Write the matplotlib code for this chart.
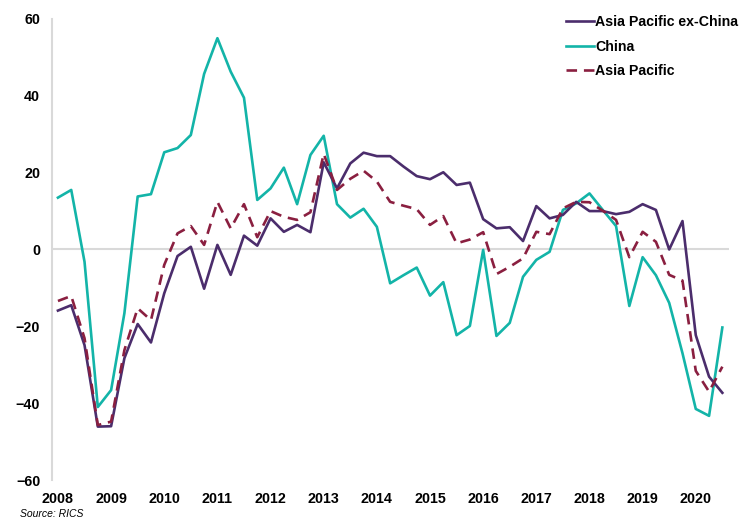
import matplotlib
matplotlib.use("Agg")
import matplotlib.pyplot as plt

quarters = list(range(51))  # 2008Q1 .. 2020Q3
year_labels = [str(y) for y in range(2008, 2021)]

ap_ex_china = [-15.9, -14.5, -24.9, -46.1, -46.0, -28.3, -19.4, -24.2, -11.4, -1.7,
               0.7, -10.2, 1.2, -6.6, 3.6, 1.0, 8.1, 4.6, 6.4, 4.5,
               22.7, 15.9, 22.4, 25.2, 24.3, 24.3, 21.6, 19.1, 18.3, 20.1,
               16.8, 17.4, 7.9, 5.5, 5.8, 2.2, 11.3, 8.1, 9.0, 12.4,
               10.0, 10.0, 9.2, 9.8, 11.8, 10.3, 0.0, 7.4, -22.3, -33.1,
               -37.3]
china = [13.5, 15.5, -3.2, -41.0, -36.6, -16.6, 13.8, 14.4, 25.3, 26.4,
         29.8, 45.7, 55.0, 46.3, 39.5, 12.9, 15.9, 21.3, 11.8, 24.6,
         29.6, 11.8, 8.3, 10.6, 5.9, -8.8, -6.7, -4.7, -12.0, -8.5,
         -22.3, -19.9, -0.1, -22.5, -19.1, -7.1, -2.7, -0.6, 10.3, 12.0,
         14.6, 10.3, 6.1, -14.7, -2.0, -6.7, -13.9, -27.0, -41.5, -43.3,
         -20.3]
asia_pacific = [-13.4, -12.1, -23.1, -45.7, -44.8, -26.2, -15.3, -18.4, -4.0, 4.2,
                6.1, 1.2, 12.4, 5.5, 11.8, 3.2, 10.0, 8.5, 7.7, 9.7,
                24.9, 15.5, 18.4, 20.5, 17.7, 12.4, 11.4, 10.5, 6.4, 8.7,
                1.6, 2.6, 4.5, -6.4, -4.5, -2.3, 4.6, 4.0, 10.7, 12.4,
                12.3, 10.1, 7.7, -2.0, 4.6, 2.0, -6.6, -8.1, -31.6, -37.0,
                -30.5]

plt.rcParams['font.family'] = ['Liberation Sans', 'DejaVu Sans']

fig = plt.figure(figsize=(7.51, 5.20), dpi=100)
ax = fig.add_axes([0.0692, 0.0769, 0.9015, 0.8866])

c_purple = '#4b2d6c'
c_teal = '#13b4a8'
c_maroon = '#8a1f40'

ax.axhline(0, color='#d9d9d9', lw=1.5, zorder=1)
ax.plot(quarters, ap_ex_china, color=c_purple, lw=1.9, label='Asia Pacific ex-China', zorder=3)
ax.plot(quarters, china, color=c_teal, lw=1.9, label='China', zorder=2)
ax.plot(quarters, asia_pacific, color=c_maroon, lw=1.9, dashes=(4, 2.6), label='Asia Pacific', zorder=4)

ax.set_xlim(-0.45, 50.5)
ax.set_ylim(-60, 60)
ax.set_yticks(range(-60, 61, 20))
ax.set_xticks(quarters[::4])
ax.set_xticklabels(year_labels)

for s in ['top', 'right', 'bottom']:
    ax.spines[s].set_visible(False)
ax.spines['left'].set_color('#d9d9d9')
ax.spines['left'].set_linewidth(1.5)

ax.tick_params(axis='both', length=0, labelsize=10.3, colors='#000000')
ax.tick_params(axis='y', pad=8.5)
ax.tick_params(axis='x', pad=8.5)
for lbl in ax.get_xticklabels() + ax.get_yticklabels():
    lbl.set_fontweight('bold')

leg = ax.legend(loc='upper right', bbox_to_anchor=(1.022, 1.021), frameon=False,
                prop={'weight': 'bold', 'size': 10.2}, handlelength=1.95,
                handletextpad=0.1, labelspacing=0.75, borderaxespad=0.0)

fig.text(0.026, 0.006, 'Source: RICS', fontsize=7.5, style='italic', color='#000000')

fig.savefig('out.png', dpi=100)
